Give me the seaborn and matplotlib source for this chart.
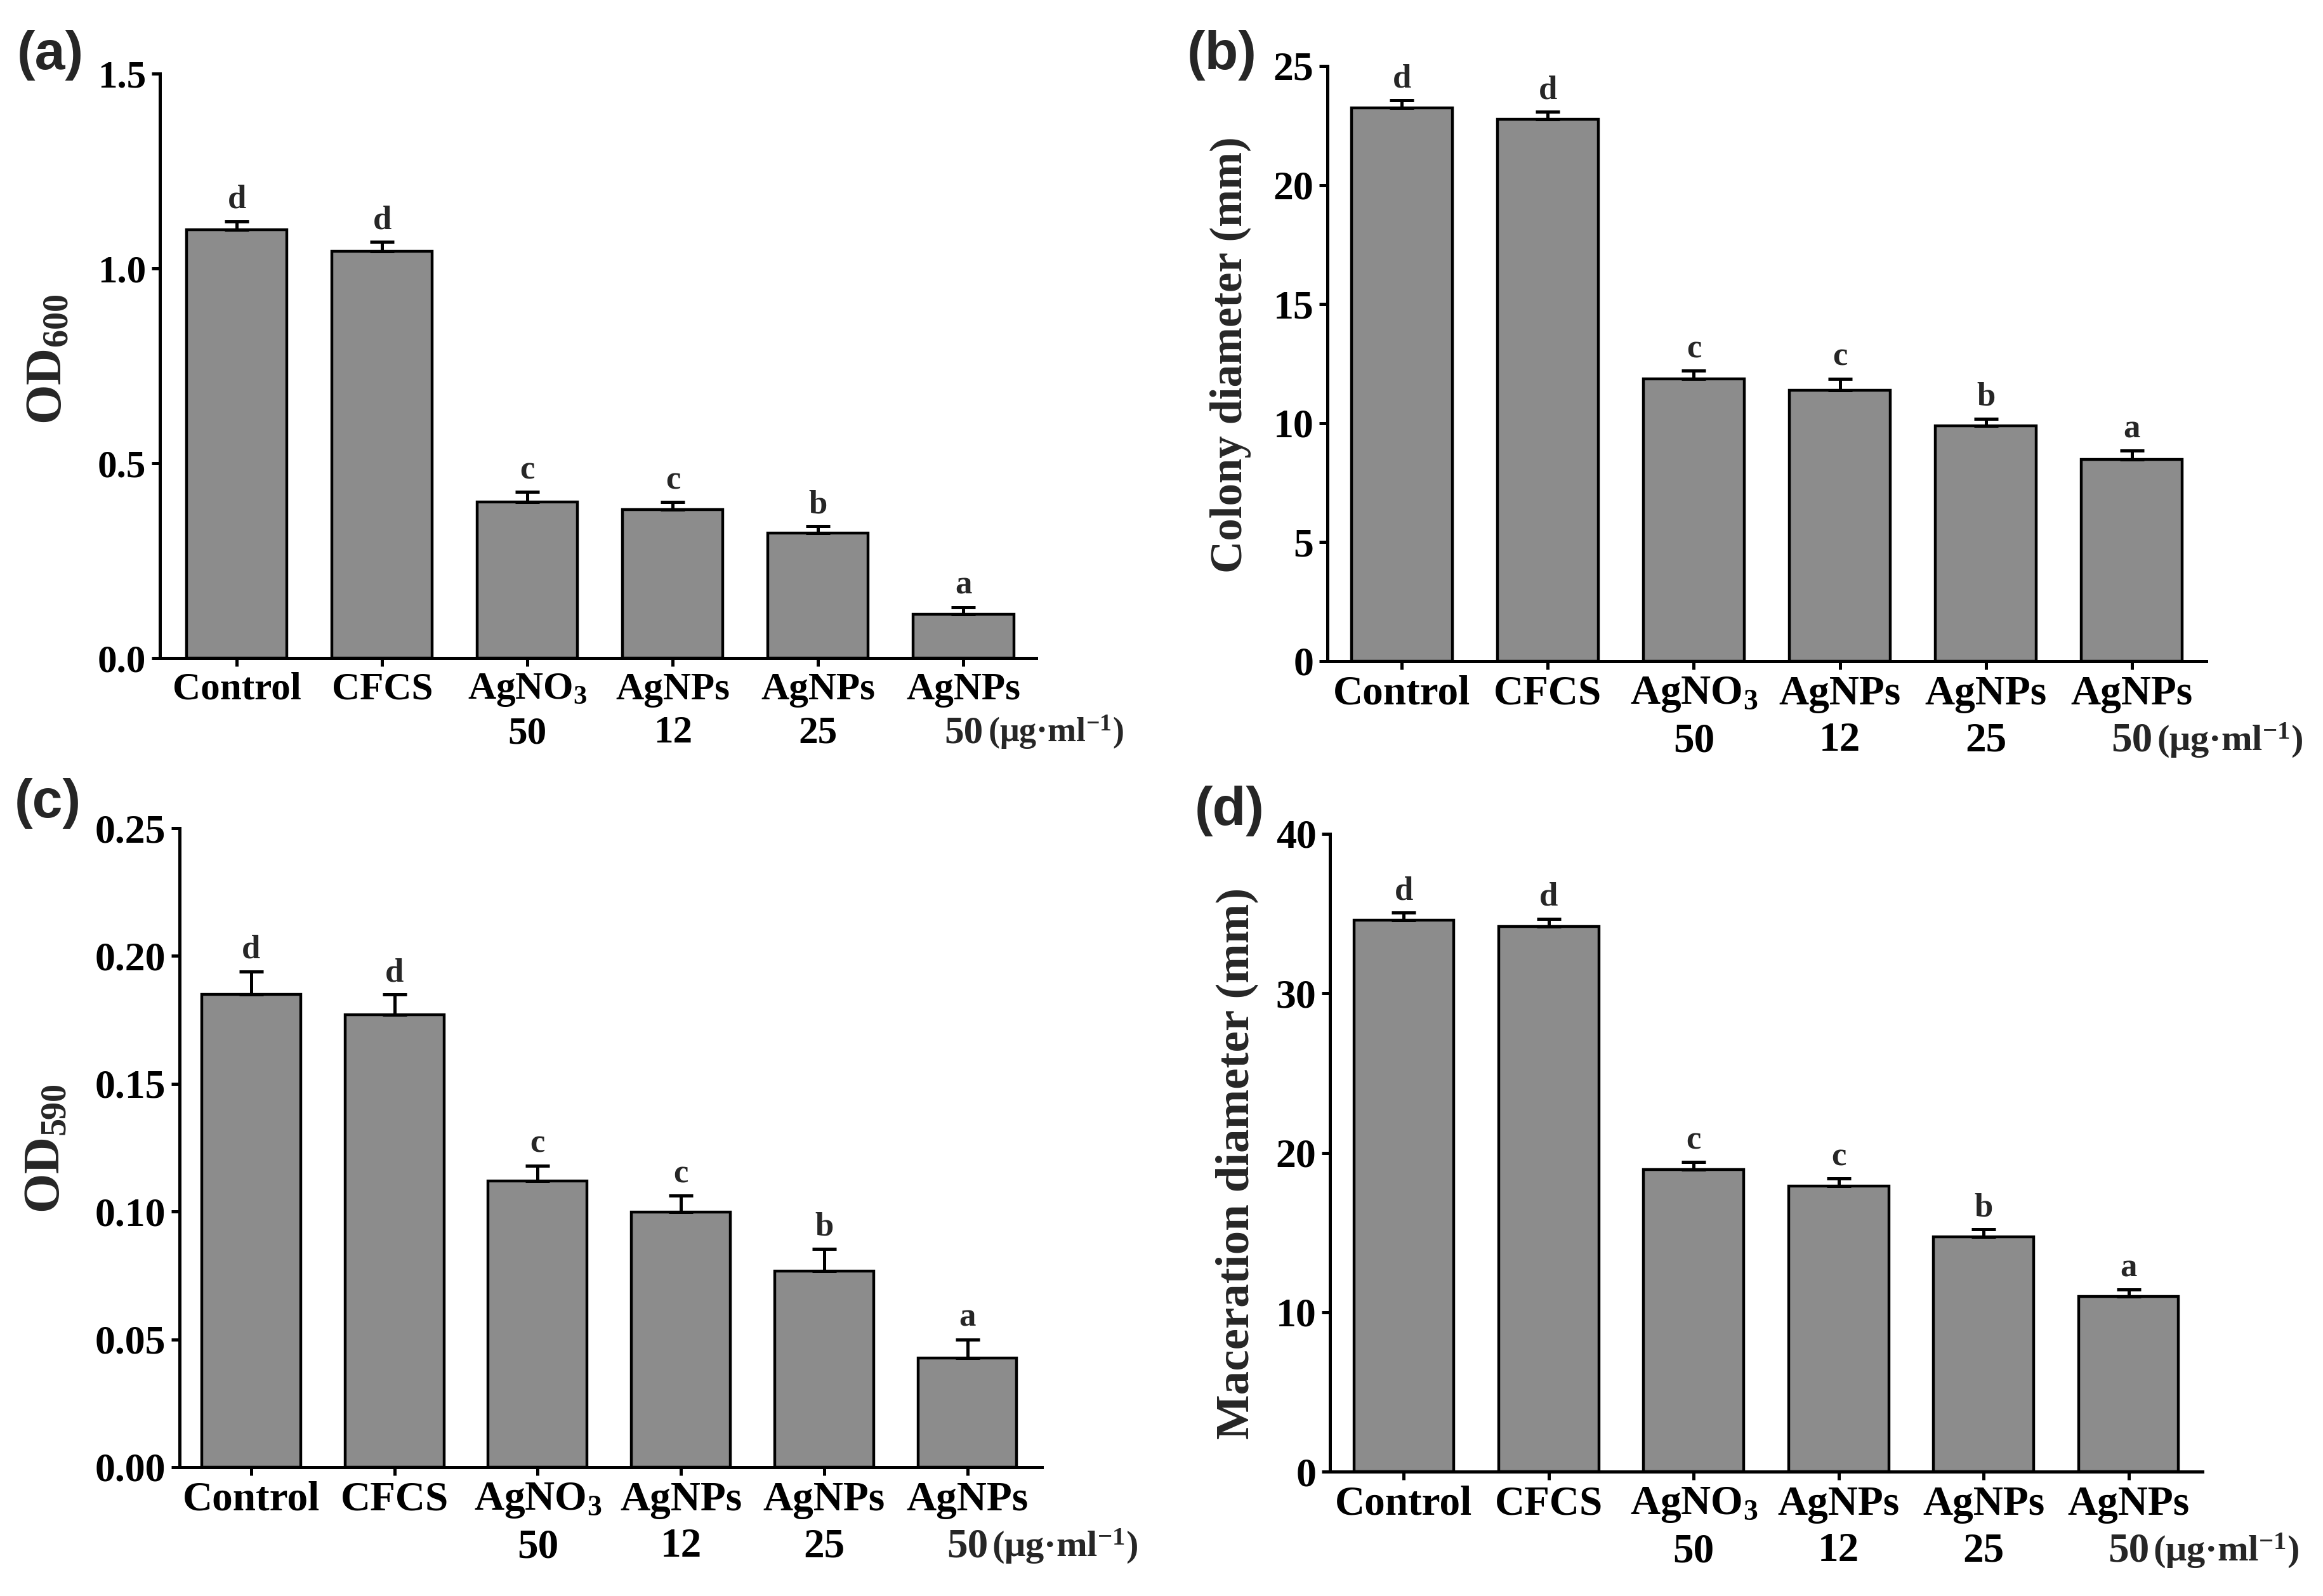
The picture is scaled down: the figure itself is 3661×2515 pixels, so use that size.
import numpy as np
import pandas as pd
import matplotlib
matplotlib.use("Agg")
import matplotlib.pyplot as plt
import matplotlib.transforms as mtransforms
import seaborn as sns

# categories and significance letters (same for all four panels)
groups = ["Control", "CFCS", "AgNO3 50", "AgNPs 12", "AgNPs 25", "AgNPs 50"]
tick_labels = ["Control", "CFCS", "AgNO$_3$\n50", "AgNPs\n12", "AgNPs\n25", "AgNPs"]
last_dose = "50"
unit_text = "(\u03bcg\u00b7ml$^{-1}$)"
letters = ["d", "d", "c", "c", "b", "a"]

# (a) OD600
od600 = [1.100, 1.044, 0.401, 0.381, 0.321, 0.113]
od600_err = [0.021, 0.024, 0.025, 0.020, 0.018, 0.018]
# (b) colony diameter (mm)
colony = [23.25, 22.76, 11.85, 11.38, 9.89, 8.48]
colony_err = [0.30, 0.32, 0.36, 0.49, 0.30, 0.36]
# (c) OD590
od590 = [0.185, 0.177, 0.112, 0.0998, 0.0768, 0.0427]
od590_err = [0.009, 0.008, 0.006, 0.0065, 0.0087, 0.0073]
# (d) maceration diameter (mm)
maceration = [34.60, 34.19, 18.93, 17.92, 14.74, 10.97]
maceration_err = [0.45, 0.49, 0.49, 0.45, 0.45, 0.46]

sns.set_theme(style="ticks")
plt.rcParams["font.family"] = ["Liberation Serif", "DejaVu Serif"]
plt.rcParams["font.weight"] = "bold"
plt.rcParams["mathtext.fontset"] = "custom"
plt.rcParams["mathtext.rm"] = "Liberation Serif:bold"
plt.rcParams["mathtext.bf"] = "Liberation Serif:bold"
plt.rcParams["mathtext.it"] = "Liberation Serif:bold:italic"

W, H = 3661, 2515
fig = plt.figure(figsize=(W / 100, H / 100), dpi=100)

def px_rect(left, right, top, bottom):
    return [left / W, 1 - bottom / H, (right - left) / W, (bottom - top) / H]

panels = [
    dict(rect=px_rect(252, 1633, 116, 1037), vals=od600, errs=od600_err,
         ylabel="OD$_{600}$", ylim=(0, 1.5), yticks=[0, 0.5, 1.0, 1.5], fmt="{:.1f}",
         xlim=(-0.53, 5.5), xfs=44, yfs=44, lfs=58, lab_xy=(-0.100, 0.511),
         tag="(a)", tag_xy=(27, 47)),
    dict(rect=px_rect(2092, 3477, 104, 1042), vals=colony, errs=colony_err,
         ylabel="Colony diameter (mm)", ylim=(0, 25), yticks=[0, 5, 10, 15, 20, 25], fmt="{:.0f}",
         xlim=(-0.51, 5.51), xfs=47, yfs=46, lfs=51, lab_xy=(-0.087, 0.515),
         tag="(b)", tag_xy=(1871, 47)),
    dict(rect=px_rect(283, 1642, 1305, 2312), vals=od590, errs=od590_err,
         ylabel="OD$_{590}$", ylim=(0, 0.25), yticks=[0, 0.05, 0.10, 0.15, 0.20, 0.25], fmt="{:.2f}",
         xlim=(-0.5, 5.52), xfs=47, yfs=46, lfs=58, lab_xy=(-0.127, 0.498),
         tag="(c)", tag_xy=(23, 1226)),
    dict(rect=px_rect(2096, 3471, 1314, 2319), vals=maceration, errs=maceration_err,
         ylabel="Maceration diameter (mm)", ylim=(0, 40), yticks=[0, 10, 20, 30, 40], fmt="{:.0f}",
         xlim=(-0.51, 5.51), xfs=47, yfs=46, lfs=54, lab_xy=(-0.082, 0.483),
         tag="(d)", tag_xy=(1883, 1238)),
]

axes = []
for p in panels:
    ax = fig.add_axes(p["rect"])
    df = pd.DataFrame({"group": groups, "value": p["vals"]})
    sns.barplot(data=df, x="group", y="value", color="#8c8c8c", saturation=1,
                edgecolor="black", linewidth=3.2, width=0.69, errorbar=None, ax=ax)
    x = np.arange(len(groups))
    ax.errorbar(x, p["vals"], yerr=[np.zeros(len(x)), p["errs"]], fmt="none",
                ecolor="black", elinewidth=3.6, capsize=13.5, capthick=3.6, zorder=3)
    for xi, v, e, let in zip(x, p["vals"], p["errs"], letters):
        ax.annotate(let, (xi, v + e), xytext=(0, 7), textcoords="offset points",
                    ha="center", va="bottom", fontsize=38, fontweight="bold")

    ax.set_xlim(*p["xlim"])
    ax.set_ylim(*p["ylim"])
    ax.set_yticks(p["yticks"])
    ax.set_yticklabels([p["fmt"].format(t) for t in p["yticks"]], fontsize=p["yfs"], fontweight="bold")
    ax.set_xticks(x)
    ax.set_xticklabels(tick_labels, fontsize=p["xfs"], fontweight="bold",
                       linespacing=1.3, va="top")
    ax.set_xlabel("")
    ax.set_ylabel(p["ylabel"], fontsize=p["lfs"], fontweight="bold")
    ax.yaxis.set_label_coords(*p["lab_xy"])

    sns.despine(ax=ax)
    for side in ["left", "bottom"]:
        ax.spines[side].set_linewidth(3.6)
        ax.spines[side].set_color("black")
    ax.tick_params(axis="both", direction="out", length=9.5, width=3.6, colors="black")
    ax.tick_params(axis="x", pad=6)
    ax.tick_params(axis="y", pad=6)

    fig.text(p["tag_xy"][0] / W, 1 - p["tag_xy"][1] / H, p["tag"], ha="left", va="top",
             fontsize=62, fontweight="bold", family=["Liberation Sans", "DejaVu Sans"])
    axes.append(ax)

# second line of the last label: dose plus unit, aligned with the other second lines
fig.canvas.draw()
renderer = fig.canvas.get_renderer()
for ax, p in zip(axes, panels):
    bb = ax.get_xticklabels()[4].get_window_extent(renderer)
    y0 = ax.transAxes.inverted().transform((bb.x0, bb.y0))[1]
    trans = mtransforms.blended_transform_factory(ax.transData, ax.transAxes)
    ax.text(5, y0, last_dose, transform=trans, ha="center", va="bottom",
            fontsize=p["xfs"], fontweight="bold", clip_on=False)
    ax.text(5.17, y0, unit_text, transform=trans, ha="left", va="bottom",
            fontsize=p["xfs"] - 5, fontweight="bold", clip_on=False)

fig.savefig("out.png", dpi=100, facecolor="white")
